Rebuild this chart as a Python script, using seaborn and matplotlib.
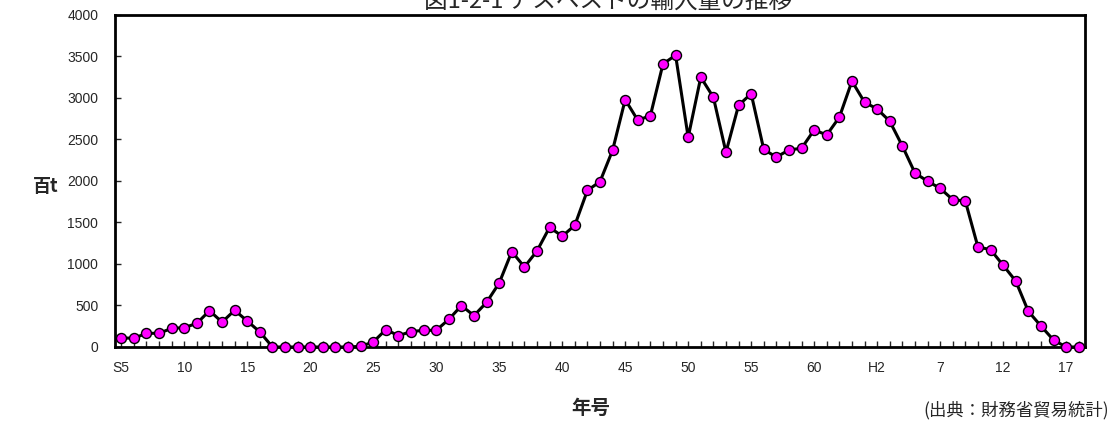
import matplotlib
matplotlib.use("Agg")
import matplotlib.pyplot as plt
import seaborn as sns
import pandas as pd

# データ（百t）
nendo = list(range(1930, 2007))  # S5 ～ H18
yunyu = [
    110, 105, 165, 165, 225, 233, 285, 437, 300, 442,
    313, 181, 0, 0, 0, 0, 0, 0, 0, 8,
    60, 209, 137, 185, 201, 201, 333, 498, 378, 538,
    771, 1149, 964, 1157, 1442, 1334, 1466, 1886, 1992, 2370,
    2980, 2732, 2787, 3410, 3515, 2527, 3250, 3009, 2346, 2912,
    3052, 2380, 2288, 2374, 2394, 2615, 2555, 2768, 3202, 2949,
    2868, 2720, 2422, 2097, 1997, 1912, 1775, 1759, 1205, 1173,
    985, 795, 430, 253, 84, 0, 0,
]
label_nendo = list(range(1930, 2006, 5))
label_text = ["S5", "10", "15", "20", "25", "30", "35", "40", "45", "50",
              "55", "60", "H2", "7", "12", "17"]

df = pd.DataFrame({"nendo": nendo, "yunyu": yunyu})

sns.set_style("white")
plt.rcParams['font.family'] = ['Noto Sans CJK JP', 'DejaVu Sans']

fig = plt.figure(figsize=(11.11, 4.21), dpi=100)
ax = fig.add_axes([0.1035, 0.1758, 0.8731, 0.7886])

sns.lineplot(data=df, x="nendo", y="yunyu", ax=ax, color="black", linewidth=2.2,
             marker="o", markersize=7.2, markerfacecolor="#ff00ff",
             markeredgecolor="black", markeredgewidth=1, clip_on=False, zorder=3)

ax.set_xlim(1929.5, 2006.5)
ax.set_ylim(0, 4000)
ax.set_yticks(range(0, 4001, 500))
ax.set_xticks(label_nendo)
ax.set_xticklabels(label_text)
ax.set_xticks(nendo, minor=True)

for s in ax.spines.values():
    s.set_color("black")
    s.set_linewidth(2)

ax.tick_params(axis="y", direction="in", length=4, width=1, pad=12,
               labelsize=10, left=True)
ax.tick_params(axis="x", which="both", direction="in", length=4, width=1,
               pad=10, labelsize=10, bottom=True)
for t in ax.get_yticklabels():
    t.set_family(['Liberation Sans', 'DejaVu Sans'])
for t in ax.get_xticklabels():
    t.set_family(['Liberation Sans Narrow', 'Liberation Sans', 'DejaVu Sans'])

ax.set_xlabel("")
ax.set_ylabel("")

# タイトルは元の図と同じく上端ぎりぎりに置く
fig.text(0.547, 0.996, "図1-2-1 アスベストの輸入量の推移", ha="center", va="center",
         fontsize=17)
fig.text(0.041, 0.558, "百t", ha="center", va="center", fontsize=13,
         fontweight="bold")
fig.text(0.532, 0.03, "年号", ha="center", va="center", fontsize=14,
         fontweight="bold")
fig.text(0.998, 0.004, "(出典：財務省貿易統計)", ha="right", va="bottom",
         fontsize=12.5)

fig.savefig("out.png", dpi=100)
